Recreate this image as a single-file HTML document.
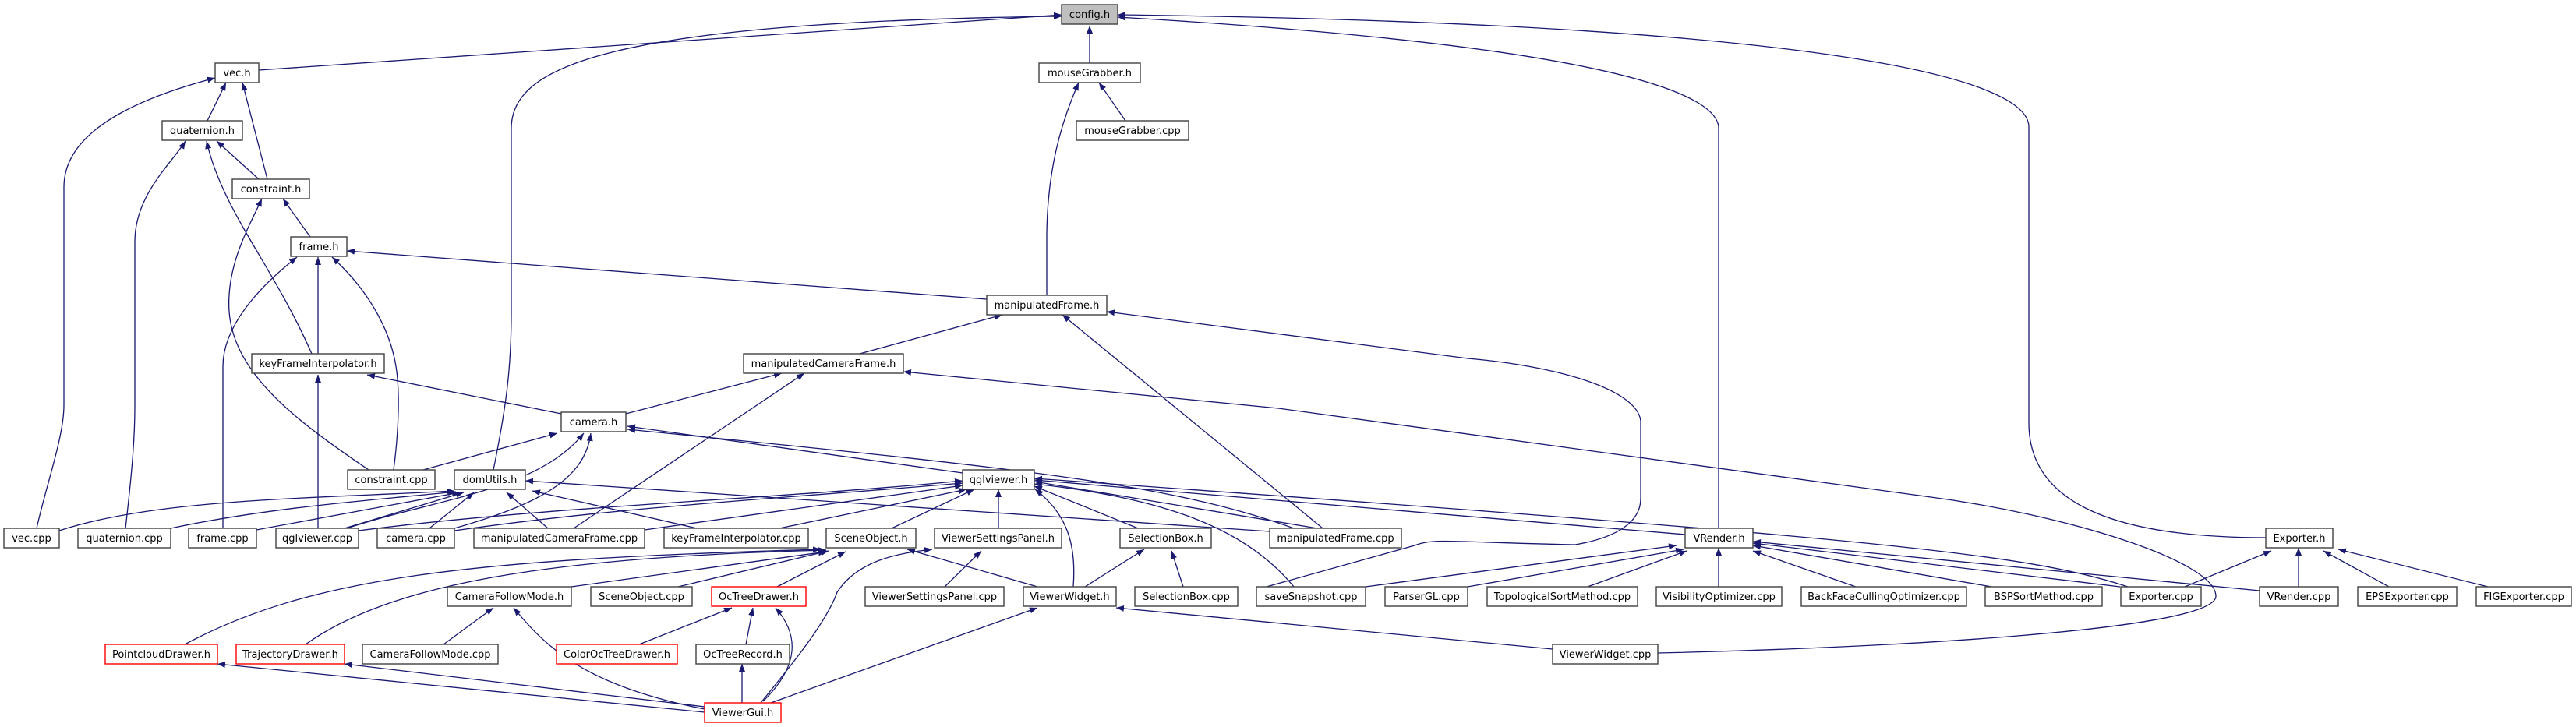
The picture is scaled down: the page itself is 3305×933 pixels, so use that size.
<!DOCTYPE html>
<html><head><meta charset="utf-8"><style>
html,body{margin:0;padding:0;background:#fff;}
svg{display:block;}
text{font-family:"DejaVu Sans","Liberation Sans",sans-serif;font-size:13px;fill:#000;}
.e{fill:none;stroke:#191970;stroke-width:1.3;marker-end:url(#a);}
.n{fill:#fff;stroke:#404040;stroke-width:1.4;}
.r{fill:#fff;stroke:#ff0000;stroke-width:1.4;}
.g{fill:#bfbfbf;stroke:#404040;stroke-width:1.4;}
</style></head><body>
<svg width="3305" height="933" viewBox="0 0 3305 933" xmlns="http://www.w3.org/2000/svg">
<defs><marker id="a" markerUnits="userSpaceOnUse" markerWidth="10" markerHeight="8" refX="10" refY="4" orient="auto"><path d="M0,0 L10,4 L0,8 z" fill="#191970"/></marker></defs>
<g>
<path class="e" d="M332,90 L1362,19"/>
<path class="e" d="M633,603 C650,520 656,470 656,400 L656,165 C656,90 760,28 1362,21"/>
<path class="e" d="M1398,81 L1398,33"/>
<path class="e" d="M2205,678 L2205,163 C2200,110 2000,55 1434,22"/>
<path class="e" d="M2907,690 C2700,690 2603,640 2603,543 L2603,163 C2603,95 2300,30 1434,19"/>
<path class="e" d="M47,678 C60,620 82,560 82,520 L82,240 C82,160 200,120 276,100"/>
<path class="e" d="M266,155 L290,106"/>
<path class="e" d="M343,230 L311,106"/>
<path class="e" d="M161,678 C170,600 173,560 173,520 L173,310 C173,250 220,210 238,181"/>
<path class="e" d="M400,454 C350,340 285,270 265,181"/>
<path class="e" d="M332,230 L278,181"/>
<path class="e" d="M473,603 C380,540 300,480 294,400 C290,340 320,290 336,255"/>
<path class="e" d="M398,304 L363,255"/>
<path class="e" d="M286,678 L286,470 C286,420 330,370 381,330"/>
<path class="e" d="M408,454 L408,330"/>
<path class="e" d="M505,603 C512,550 513,500 508,470 C500,420 470,370 426,330"/>
<path class="e" d="M1266,384 L445,322"/>
<path class="e" d="M1444,155 L1410,106"/>
<path class="e" d="M1343,379 L1343,300 C1344,220 1360,160 1384,106"/>
<path class="e" d="M1103,454 L1286,404"/>
<path class="e" d="M1697,678 L1363,404"/>
<path class="e" d="M1625,753 L1815,700 C1840,690 1862,696 2021,699 C2074,690 2105,670 2105,640 L2105,540 C2100,500 2000,470 1883,460 L1420,400"/>
<path class="e" d="M803,531 L1003,479"/>
<path class="e" d="M736,678 L1032,479"/>
<path class="e" d="M2127,838 C2400,832 2843,810 2843,765 C2843,720 2650,660 2470,637 L1640,524 L1159,477"/>
<path class="e" d="M720,531 L471,481"/>
<path class="e" d="M408,678 L408,481"/>
<path class="e" d="M543,603 L715,556"/>
<path class="e" d="M445,678 C560,640 690,630 749,556"/>
<path class="e" d="M583,678 C680,650 750,620 758,556"/>
<path class="e" d="M1235,607 L805,547"/>
<path class="e" d="M1660,678 C1500,620 1300,600 805,551"/>
<path class="e" d="M76,681 C200,640 400,640 583,630"/>
<path class="e" d="M219,678 C350,650 500,640 585,631"/>
<path class="e" d="M329,680 L590,632"/>
<path class="e" d="M442,678 L595,632"/>
<path class="e" d="M551,678 L608,632"/>
<path class="e" d="M703,678 L650,632"/>
<path class="e" d="M894,678 L683,630"/>
<path class="e" d="M1629,682 L674,617"/>
<path class="e" d="M460,681 C700,650 1000,640 1235,617"/>
<path class="e" d="M583,681 C800,650 1000,640 1235,620"/>
<path class="e" d="M827,680 L1235,623"/>
<path class="e" d="M1000,678 L1240,628"/>
<path class="e" d="M1144,678 L1250,628"/>
<path class="e" d="M1281,678 L1281,628"/>
<path class="e" d="M1377,753 C1381,700 1370,660 1328,628"/>
<path class="e" d="M1460,678 L1327,624"/>
<path class="e" d="M1690,678 L1327,618"/>
<path class="e" d="M1660,753 C1600,680 1500,640 1327,621"/>
<path class="e" d="M2730,753 C2600,710 2400,690 1327,614"/>
<path class="e" d="M2162,686 L1327,616"/>
<path class="e" d="M1752,753 L2151,700"/>
<path class="e" d="M1883,753 L2160,705"/>
<path class="e" d="M2037,753 L2164,707"/>
<path class="e" d="M2205,753 L2205,703"/>
<path class="e" d="M2381,753 L2249,707"/>
<path class="e" d="M2555,753 L2249,700"/>
<path class="e" d="M2720,753 L2249,697"/>
<path class="e" d="M2899,758 L2249,695"/>
<path class="e" d="M1992,833 L1432,780"/>
<path class="e" d="M237,827 C400,740 600,718 1053,705"/>
<path class="e" d="M392,827 C500,750 700,715 1060,706"/>
<path class="e" d="M733,753 L1060,708"/>
<path class="e" d="M870,753 L1063,707"/>
<path class="e" d="M997,753 L1085,708"/>
<path class="e" d="M1331,753 L1164,705"/>
<path class="e" d="M1212,753 L1259,707"/>
<path class="e" d="M976,902 C1010,860 1060,800 1074,760 C1100,720 1150,710 1196,705"/>
<path class="e" d="M989,902 L1331,780"/>
<path class="e" d="M1392,753 L1468,705"/>
<path class="e" d="M1518,753 L1503,707"/>
<path class="e" d="M820,827 L939,780"/>
<path class="e" d="M957,827 L966,780"/>
<path class="e" d="M979,900 C1020,860 1030,820 995,780"/>
<path class="e" d="M952,902 L952,852"/>
<path class="e" d="M569,827 L633,780"/>
<path class="e" d="M904,910 C750,880 700,830 659,780"/>
<path class="e" d="M904,914 L279,852"/>
<path class="e" d="M904,907 L442,852"/>
<path class="e" d="M2803,753 L2914,707"/>
<path class="e" d="M2949,753 L2949,703"/>
<path class="e" d="M3065,753 L2981,707"/>
<path class="e" d="M3192,753 L3000,705"/>
</g>
<g text-anchor="middle">
<rect class="g" x="1362" y="6" width="72" height="25"/><text x="1398" y="23">config.h</text>
<rect class="n" x="276" y="81" width="56" height="25"/><text x="304" y="98">vec.h</text>
<rect class="n" x="1333" y="81" width="130" height="25"/><text x="1398" y="98">mouseGrabber.h</text>
<rect class="n" x="208" y="155" width="103" height="25"/><text x="259.5" y="172">quaternion.h</text>
<rect class="n" x="1381" y="155" width="144" height="25"/><text x="1453" y="172">mouseGrabber.cpp</text>
<rect class="n" x="298" y="230" width="99" height="25"/><text x="347.5" y="247">constraint.h</text>
<rect class="n" x="373" y="304" width="72" height="25"/><text x="409" y="321">frame.h</text>
<rect class="n" x="1266" y="379" width="154" height="25"/><text x="1343" y="396">manipulatedFrame.h</text>
<rect class="n" x="323" y="454" width="170" height="25"/><text x="408" y="471">keyFrameInterpolator.h</text>
<rect class="n" x="954" y="454" width="205" height="25"/><text x="1056.5" y="471">manipulatedCameraFrame.h</text>
<rect class="n" x="720" y="529" width="83" height="25"/><text x="761.5" y="546">camera.h</text>
<rect class="n" x="446" y="603" width="112" height="25"/><text x="502" y="620">constraint.cpp</text>
<rect class="n" x="583" y="603" width="91" height="25"/><text x="628.5" y="620">domUtils.h</text>
<rect class="n" x="1235" y="603" width="92" height="25"/><text x="1281" y="620">qglviewer.h</text>
<rect class="n" x="5" y="678" width="71" height="25"/><text x="40.5" y="695">vec.cpp</text>
<rect class="n" x="100" y="678" width="119" height="25"/><text x="159.5" y="695">quaternion.cpp</text>
<rect class="n" x="242" y="678" width="87" height="25"/><text x="285.5" y="695">frame.cpp</text>
<rect class="n" x="354" y="678" width="106" height="25"/><text x="407" y="695">qglviewer.cpp</text>
<rect class="n" x="484" y="678" width="99" height="25"/><text x="533.5" y="695">camera.cpp</text>
<rect class="n" x="608" y="678" width="219" height="25"/><text x="717.5" y="695">manipulatedCameraFrame.cpp</text>
<rect class="n" x="852" y="678" width="185" height="25"/><text x="944.5" y="695">keyFrameInterpolator.cpp</text>
<rect class="n" x="1060" y="678" width="115" height="25"/><text x="1117.5" y="695">SceneObject.h</text>
<rect class="n" x="1199" y="678" width="163" height="25"/><text x="1280.5" y="695">ViewerSettingsPanel.h</text>
<rect class="n" x="1437" y="678" width="117" height="25"/><text x="1495.5" y="695">SelectionBox.h</text>
<rect class="n" x="1629" y="678" width="169" height="25"/><text x="1713.5" y="695">manipulatedFrame.cpp</text>
<rect class="n" x="2162" y="678" width="87" height="25"/><text x="2205.5" y="695">VRender.h</text>
<rect class="n" x="2907" y="678" width="86" height="25"/><text x="2950" y="695">Exporter.h</text>
<rect class="n" x="574" y="753" width="159" height="25"/><text x="653.5" y="770">CameraFollowMode.h</text>
<rect class="n" x="758" y="753" width="130" height="25"/><text x="823" y="770">SceneObject.cpp</text>
<rect class="r" x="913" y="753" width="121" height="25"/><text x="973.5" y="770">OcTreeDrawer.h</text>
<rect class="n" x="1110" y="753" width="178" height="25"/><text x="1199" y="770">ViewerSettingsPanel.cpp</text>
<rect class="n" x="1313" y="753" width="119" height="25"/><text x="1372.5" y="770">ViewerWidget.h</text>
<rect class="n" x="1456" y="753" width="132" height="25"/><text x="1522" y="770">SelectionBox.cpp</text>
<rect class="n" x="1612" y="753" width="140" height="25"/><text x="1682" y="770">saveSnapshot.cpp</text>
<rect class="n" x="1777" y="753" width="106" height="25"/><text x="1830" y="770">ParserGL.cpp</text>
<rect class="n" x="1908" y="753" width="193" height="25"/><text x="2004.5" y="770">TopologicalSortMethod.cpp</text>
<rect class="n" x="2125" y="753" width="161" height="25"/><text x="2205.5" y="770">VisibilityOptimizer.cpp</text>
<rect class="n" x="2311" y="753" width="212" height="25"/><text x="2417" y="770">BackFaceCullingOptimizer.cpp</text>
<rect class="n" x="2547" y="753" width="150" height="25"/><text x="2622" y="770">BSPSortMethod.cpp</text>
<rect class="n" x="2721" y="753" width="103" height="25"/><text x="2772.5" y="770">Exporter.cpp</text>
<rect class="n" x="2899" y="753" width="101" height="25"/><text x="2949.5" y="770">VRender.cpp</text>
<rect class="n" x="3025" y="753" width="127" height="25"/><text x="3088.5" y="770">EPSExporter.cpp</text>
<rect class="n" x="3177" y="753" width="122" height="25"/><text x="3238" y="770">FIGExporter.cpp</text>
<rect class="r" x="135" y="827" width="144" height="25"/><text x="207" y="844">PointcloudDrawer.h</text>
<rect class="r" x="303" y="827" width="139" height="25"/><text x="372.5" y="844">TrajectoryDrawer.h</text>
<rect class="n" x="465" y="827" width="174" height="25"/><text x="552" y="844">CameraFollowMode.cpp</text>
<rect class="r" x="714" y="827" width="155" height="25"/><text x="791.5" y="844">ColorOcTreeDrawer.h</text>
<rect class="n" x="893" y="827" width="120" height="25"/><text x="953" y="844">OcTreeRecord.h</text>
<rect class="n" x="1992" y="827" width="135" height="25"/><text x="2059.5" y="844">ViewerWidget.cpp</text>
<rect class="r" x="904" y="902" width="98" height="25"/><text x="953" y="919">ViewerGui.h</text>
</g>
</svg>
</body></html>
